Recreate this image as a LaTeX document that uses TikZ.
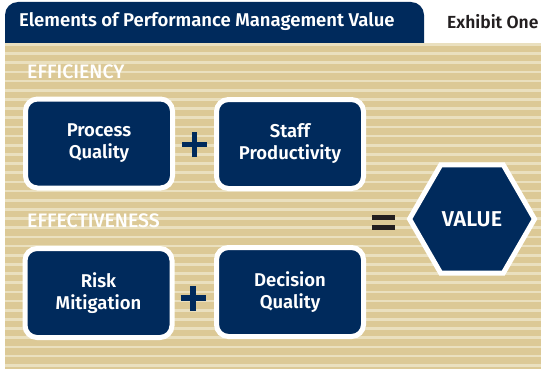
\documentclass[tikz,border=0pt]{standalone}
\usepackage{fontspec}
\setmainfont{Fira Sans}[BoldFont={Fira Sans SemiBold}]
\newfontfamily\labelfont{Fira Sans Medium}
\usetikzlibrary{shapes.geometric}

\definecolor{navy}{HTML}{002A5C}
\definecolor{tan}{HTML}{DCC996}
\definecolor{tanlight}{HTML}{EAE0BF}
\definecolor{ink}{HTML}{231F20}

\tikzset{
  element/.style={draw=white, line width=5pt, fill=navy, rounded corners=12pt,
    minimum width=147pt, minimum height=89pt, inner sep=0pt, align=center,
    text=white, font=\fontsize{18.5}{22}\selectfont\bfseries},
  group/.style={anchor=west, text=white, inner sep=0pt, font=\fontsize{19.5}{20}\labelfont},
  plusmark/.style={navy, line width=5.5pt},
  equalmark/.style={ink, line width=5pt},
}

\begin{document}
\begin{tikzpicture}[x=1pt,y=-1pt]
\useasboundingbox (0,0) rectangle (541,369);
\fill[white] (0,0) rectangle (541,369);

% striped panel
\fill[tan] (5,43) rectangle (541,369);
\foreach \i in {0,...,35}
  \fill[tanlight] (5,43+\i*9.17) rectangle (541,43+\i*9.17+2.7);

% header tab
\fill[navy] (5,43) [rounded corners=13pt]-- (5,2) -- (424,2) [sharp corners]-- (424,43) -- cycle;
\node[anchor=west, text=white, inner sep=0pt, font=\fontsize{18.5}{20}\selectfont\bfseries] (title) at (19,22) {Elements of Performance Management Value};
\node[anchor=west, text=ink, inner sep=0pt, font=\fontsize{17.5}{20}\selectfont\bfseries] (exhibit) at (447,22) {Exhibit One};

% group labels
\node[group] (efficiency) at (27,72) {EFFICIENCY};
\node[group] (effectiveness) at (27,221) {EFFECTIVENESS};

% the four elements
\node[element] (process) at (99,143.5) {Process\\Quality};
\node[element] (staff) at (290,144) {Staff\\Productivity};
\node[element] (risk) at (98.5,293) {Risk\\Mitigation};
\node[element] (decision) at (290,292) {Decision\\Quality};

% result
\node[regular polygon, regular polygon sides=6, minimum size=125pt, inner sep=0pt,
  draw=white, line width=5pt, fill=navy, text=white,
  font=\fontsize{21.5}{22}\selectfont\bfseries] (value) at (472,219) {VALUE};

% operators
\coordinate (plusA) at (194.5,144.5);
\coordinate (plusB) at (193,298);
\coordinate (equals) at (383.5,222.5);
\foreach \p in {plusA,plusB} {
  \draw[plusmark] ([xshift=-12.5pt]\p) -- ([xshift=12.5pt]\p);
  \draw[plusmark] ([yshift=-12.5pt]\p) -- ([yshift=12.5pt]\p);
}
\draw[equalmark] ([xshift=-11.5pt,yshift=-5pt]equals) -- ([xshift=11.5pt,yshift=-5pt]equals);
\draw[equalmark] ([xshift=-11.5pt,yshift=5pt]equals) -- ([xshift=11.5pt,yshift=5pt]equals);
\end{tikzpicture}
\end{document}
